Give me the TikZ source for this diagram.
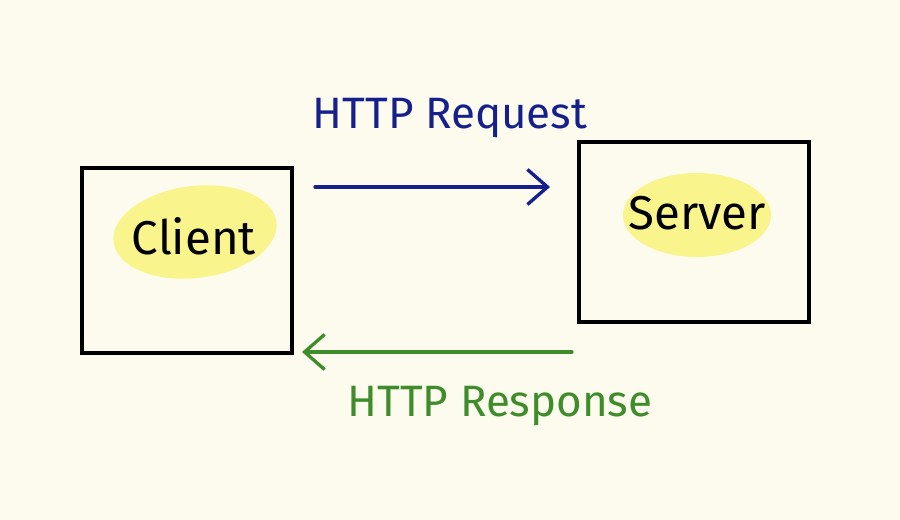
\documentclass[tikz,border=0pt]{standalone}
\usepackage{fontspec}
\setmainfont{Fira Sans}
\usetikzlibrary{arrows.meta,shapes.geometric}
\definecolor{bgc}{RGB}{253,251,238}
\definecolor{hl}{RGB}{249,244,140}
\definecolor{reqc}{RGB}{22,32,140}
\definecolor{resc}{RGB}{62,140,42}
\tikzset{
  box/.style={draw=black, line width=2pt, minimum width=210*0.02cm, minimum height=185*0.02cm, inner sep=0pt},
  blob/.style={ellipse, fill=hl, inner sep=0pt},
  word/.style={text=black, inner sep=0pt, font=\fontsize{27}{30}\selectfont},
  conn/.style={line width=1.9pt, line cap=round, -{Straight Barb[length=0.4cm,width=0.7cm,line width=1.9pt]}},
  lbl/.style={font=\fontsize{25}{28}\selectfont}
}
\begin{document}
\begin{tikzpicture}[x=0.02cm,y=-0.02cm]
\fill[bgc] (0,0) rectangle (900,520);
\useasboundingbox (0,0) rectangle (900,520);
\node[box] (client) at (187,260.5) {};
\node[box, minimum width=230*0.02cm, minimum height=180*0.02cm] (server) at (694,232) {};
\node[blob, minimum width=164*0.02cm, minimum height=92*0.02cm, rotate=7] (clBlob) at (195,232) {};
\node[blob, minimum width=148*0.02cm, minimum height=84*0.02cm] (svBlob) at (697,215) {};
\node[word] (clText) at (194,236) {Client};
\node[word] (svText) at (697,213) {Server};
\coordinate (reqS) at (315,187);
\coordinate (reqE) at (550,187);
\coordinate (resS) at (572,352);
\coordinate (resE) at (302,352);
\draw[conn, reqc] (reqS) -- (reqE);
\draw[conn, resc] (resS) -- (resE);
\node[lbl, text=reqc] (reqL) at (450,118) {HTTP Request};
\node[lbl, text=resc] (resL) at (500,406) {HTTP Response};
\end{tikzpicture}
\end{document}
